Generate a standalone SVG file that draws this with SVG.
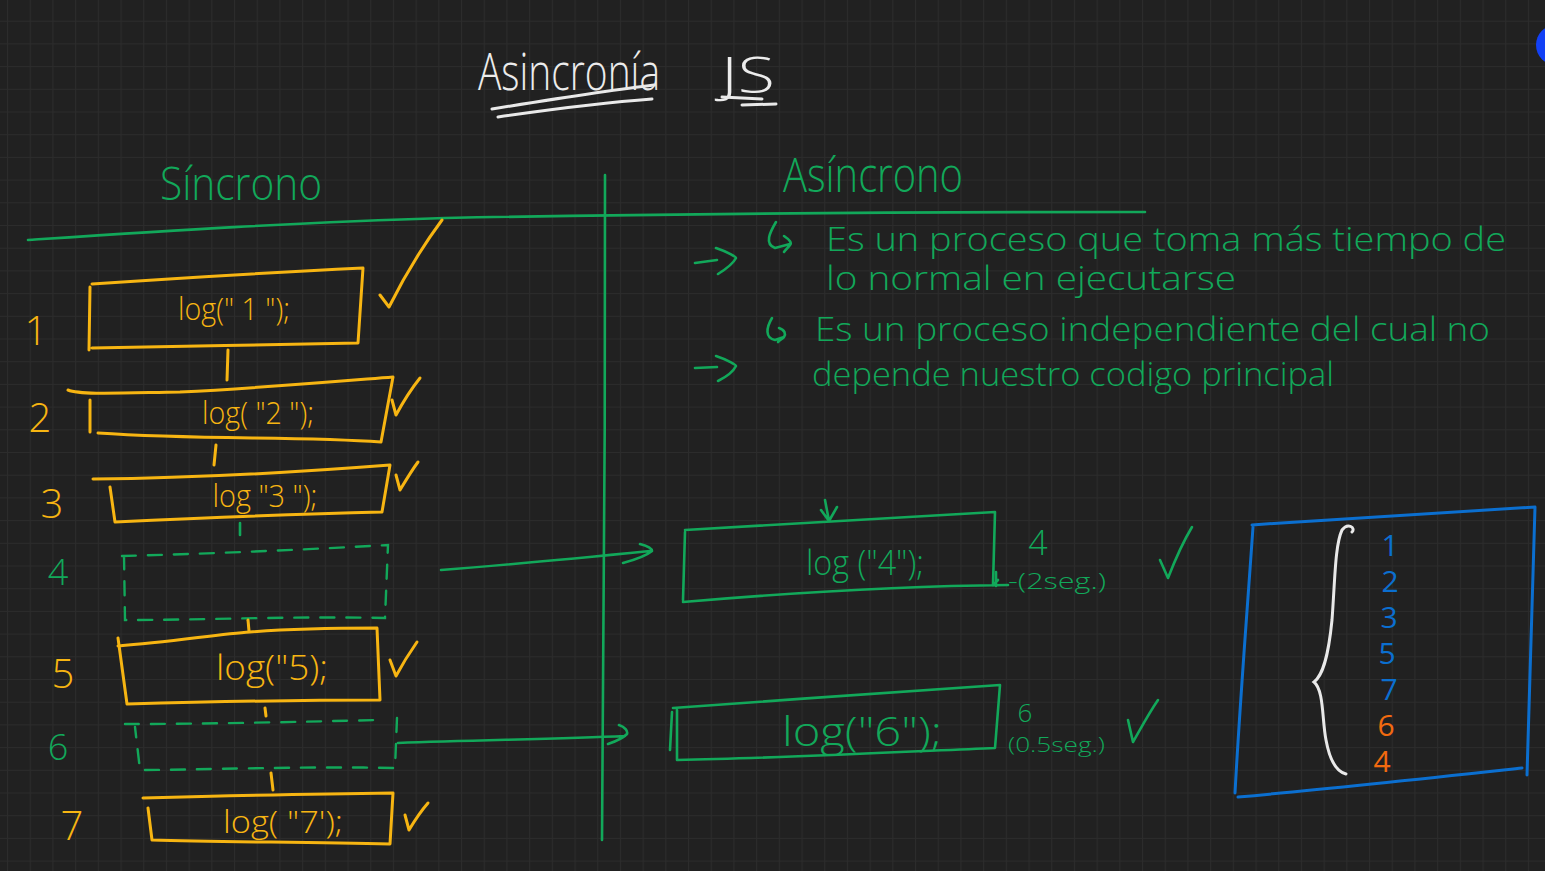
<svg xmlns="http://www.w3.org/2000/svg" width="1545" height="871" viewBox="0 0 1545 871">
<defs>
<pattern id="grid" x="7" y="-2" width="22.7" height="22.7" patternUnits="userSpaceOnUse">
<path d="M0,0 H22.7 M0,0 V22.7" stroke="#2c2c2c" stroke-width="2.2" fill="none"/>
</pattern>
<style>
.y{stroke:#f7b512;fill:none;stroke-width:3;stroke-linecap:round;stroke-linejoin:round}
.g{stroke:#12a85a;fill:none;stroke-width:2.6;stroke-linecap:round;stroke-linejoin:round}
.gd{stroke:#12a85a;fill:none;stroke-width:2.4;stroke-dasharray:14 12;stroke-linecap:round}
.b{stroke:#0b6fd0;fill:none;stroke-width:3;stroke-linecap:round;stroke-linejoin:round}
.w{stroke:#e9e9e9;fill:none;stroke-width:3;stroke-linecap:round}
text{font-family:"Open Sans","Liberation Sans",sans-serif;font-weight:300}
.ty{fill:#f7b512}
.tg{fill:#12a85a}
.tw{fill:#ececec}
.tb{fill:#0b6fd0;font-weight:400}
.to{fill:#f26a0f;font-weight:400}
</style>
</defs>
<rect width="1545" height="871" fill="#212121"/>
<rect width="1545" height="871" fill="url(#grid)"/>
<circle cx="1556" cy="45" r="20" fill="#1240f5"/>

<g id="title">
<text class="tw" x="478" y="90" font-size="52" textLength="182" lengthAdjust="spacingAndGlyphs">Asincronía</text>
<path class="w" d="M492,109 C560,98 610,90 654,85 M498,117 C560,108 610,102 652,99" stroke-width="2.6"/>
<text class="tw" x="721" y="93" font-size="50" textLength="54" lengthAdjust="spacingAndGlyphs">JS</text>
<path class="w" d="M722,97 L762,99 M742,105 L776,104" stroke-width="2.4"/>
</g>

<g id="headers">
<text class="tg" x="160" y="200" font-size="46" textLength="162" lengthAdjust="spacingAndGlyphs">Síncrono</text>
<text class="tg" x="783" y="192" font-size="48" textLength="180" lengthAdjust="spacingAndGlyphs">Asíncrono</text>
<path class="g" d="M28,240 C150,232 300,222 445,218 C700,213 950,212 1145,212" stroke-width="3"/>
<path class="g" d="M605,175 C606,400 603,600 602,840" stroke-width="3"/>
</g>

<g id="sync-labels">
<text class="ty" x="36" y="345" font-size="40" text-anchor="middle">1</text>
<text class="ty" x="40" y="432" font-size="40" text-anchor="middle">2</text>
<text class="ty" x="52" y="518" font-size="40" text-anchor="middle">3</text>
<text class="tg" x="58" y="585" font-size="36" text-anchor="middle">4</text>
<text class="ty" x="63" y="688" font-size="40" text-anchor="middle">5</text>
<text class="tg" x="58" y="760" font-size="36" text-anchor="middle">6</text>
<text class="ty" x="72" y="840" font-size="40" text-anchor="middle">7</text>
</g>

<g id="box1">
<path class="y" d="M92,284 C180,278 280,272 363,268 L358,343 C270,344 180,347 92,348 M90,287 L89,350"/>
<text class="ty" x="234" y="320" font-size="32" text-anchor="middle" textLength="112" lengthAdjust="spacingAndGlyphs">log(" 1 ");</text>
</g>
<g id="box2">
<path class="y" d="M68,390 C80,395 120,393 180,392 C260,388 330,382 393,377 L381,442 C300,436 200,440 98,433 M90,400 L90,432"/>
<text class="ty" x="258" y="424" font-size="32" text-anchor="middle" textLength="112" lengthAdjust="spacingAndGlyphs">log( "2 ");</text>
</g>
<g id="box3">
<path class="y" d="M93,479 C200,478 300,472 390,465 L382,512 C300,514 200,518 115,522 L110,487"/>
<text class="ty" x="265" y="507" font-size="32" text-anchor="middle" textLength="105" lengthAdjust="spacingAndGlyphs">log "3 ");</text>
</g>
<g id="box4">
<path class="gd" d="M122,556 C200,554 300,550 388,545 L385,618 C300,616 200,620 125,620 L124,556"/>
</g>
<g id="box5">
<path class="y" d="M118,646 C170,642 220,634 250,632 C300,628 340,628 377,628 L380,700 C300,700 200,702 127,704 L118,638"/>
<text class="ty" x="272" y="680" font-size="34" text-anchor="middle" textLength="112" lengthAdjust="spacingAndGlyphs">log("5);</text>
</g>
<g id="box6">
<path class="gd" d="M125,724 C200,724 300,722 376,720 M397,718 L395,768 C300,766 200,770 140,770 L135,727"/>
</g>
<g id="box7">
<path class="y" d="M143,798 C220,796 300,794 393,793 L390,844 C300,842 220,842 152,840 L148,808"/>
<text class="ty" x="283" y="833" font-size="32" text-anchor="middle" textLength="120" lengthAdjust="spacingAndGlyphs">log( "7');</text>
</g>

<g id="checks-sync">
<path class="y" d="M380,295 L389,307 C405,275 425,243 442,220"/>
<path class="y" d="M392,400 L396,415 C403,402 412,388 420,378"/>
<path class="y" d="M396,475 L400,490 C406,480 412,470 418,462"/>
<path class="y" d="M390,660 L396,676 C403,663 410,652 417,642"/>
<path class="y" d="M405,815 L409,830 C415,820 421,811 428,803"/>
</g>

<g id="explanation">
<path class="g" d="M695,263 L717,260 M716,248 C728,252 736,257 736,258 C733,264 726,269 718,274"/>
<path class="g" d="M695,368 L717,367 M716,356 C728,360 736,365 736,366 C733,372 726,377 718,381"/>
<path class="g" d="M776,222 C770,232 764,244 775,248 L790,244 M784,236 C790,240 792,243 790,245 C788,248 786,249 784,252"/>
<path class="g" d="M772,318 C766,328 765,338 775,340 L784,337 M779,328 C785,330 786,334 784,337 C782,339 780,340 778,342"/>
<text class="tg" x="826" y="251" font-size="33" textLength="680" lengthAdjust="spacingAndGlyphs">Es un proceso que toma más tiempo de</text>
<text class="tg" x="826" y="290" font-size="33" textLength="410" lengthAdjust="spacingAndGlyphs">lo normal en ejecutarse</text>
<text class="tg" x="815" y="341" font-size="33" textLength="675" lengthAdjust="spacingAndGlyphs">Es un proceso independiente del cual no</text>
<text class="tg" x="812" y="386" font-size="33" textLength="522" lengthAdjust="spacingAndGlyphs">depende nuestro codigo principal</text>
</g>

<g id="async4">
<path class="g" d="M685,530 C800,524 900,518 995,512 L993,585 M683,602 C800,592 900,586 1008,585 M685,532 L683,600"/>
<text class="tg" x="865" y="575" font-size="34" text-anchor="middle" textLength="118" lengthAdjust="spacingAndGlyphs">log ("4");</text>
<text class="tg" x="1038" y="555" font-size="34" text-anchor="middle">4</text>
<text class="tg" x="1008" y="589" font-size="22" textLength="98" lengthAdjust="spacingAndGlyphs">-(2seg.)</text>
<path class="g" d="M1160,560 L1168,578 C1175,560 1183,542 1192,527"/>
</g>

<g id="async6">
<path class="g" d="M673,708 C780,700 900,692 1000,685 L995,748 C900,752 780,758 677,760 M677,710 L677,760 M672,712 L670,750"/>
<text class="tg" x="862" y="746" font-size="40" text-anchor="middle" textLength="160" lengthAdjust="spacingAndGlyphs">log("6");</text>
<text class="tg" x="1025" y="722" font-size="26" text-anchor="middle">6</text>
<text class="tg" x="1008" y="752" font-size="21" textLength="97" lengthAdjust="spacingAndGlyphs">(0.5seg.)</text>
<path class="g" d="M1128,720 L1133,742 C1141,728 1149,713 1158,700"/>
</g>

<g id="output">
<path class="b" d="M1252,525 C1350,518 1450,512 1535,507 L1527,775 M1238,797 C1330,789 1430,778 1522,768 M1253,527 C1248,600 1240,700 1235,793"/>
<path class="w" d="M1352,532 C1356,528 1348,522 1342,530 C1335,545 1335,580 1332,620 C1328,660 1322,676 1314,682 C1324,690 1322,720 1326,740 C1330,762 1338,772 1346,774"/>
<text class="tb" x="1390" y="556" font-size="30" text-anchor="middle">1</text>
<text class="tb" x="1390" y="592" font-size="30" text-anchor="middle">2</text>
<text class="tb" x="1389" y="628" font-size="30" text-anchor="middle">3</text>
<text class="tb" x="1387" y="664" font-size="30" text-anchor="middle">5</text>
<text class="tb" x="1389" y="700" font-size="30" text-anchor="middle">7</text>
<text class="to" x="1386" y="736" font-size="30" text-anchor="middle">6</text>
<text class="to" x="1382" y="772" font-size="30" text-anchor="middle">4</text>
</g>

<g id="connectors">
<path class="y" d="M228,350 L227,380"/>
<path class="y" d="M216,445 L214,465"/>
<path class="g" d="M240,523 L240,535"/>
<path class="y" d="M248,620 L249,631"/>
<path class="y" d="M265,708 L266,716"/>
<path class="y" d="M271,773 L273,790"/>
<path class="g" d="M441,570 C520,564 600,556 650,551 M640,544 C648,546 652,549 652,551 C646,556 634,560 623,563"/>
<path class="g" d="M398,743 C480,740 560,739 625,736 M619,725 C625,727 628,731 627,734 C622,739 614,742 608,744"/>
<path class="g" d="M825,500 L829,521 M821,510 L829,521 L837,507"/>
<path class="g" d="M993,585 L998,580 M996,572 L996,586"/>
</g>
</svg>
